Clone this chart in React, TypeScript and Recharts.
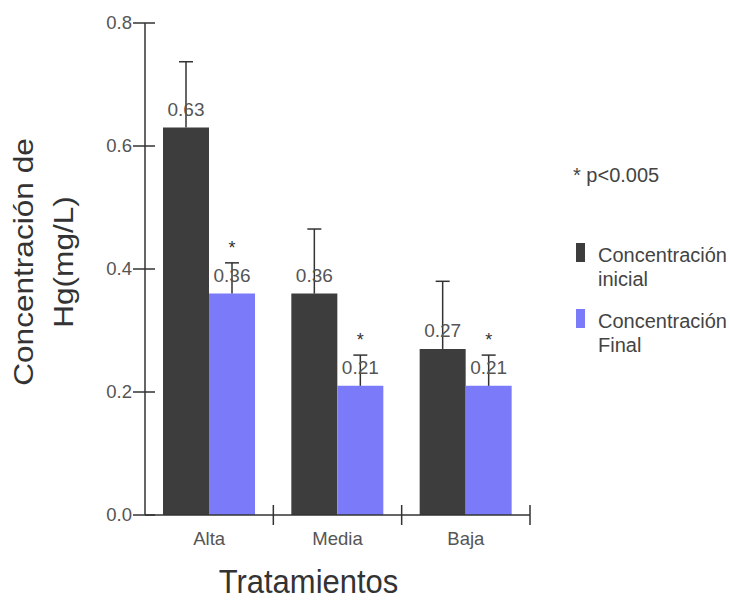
import React from 'react';
import { BarChart, Bar, XAxis, YAxis, LabelList, Legend, Label } from 'recharts';

const FONT = '"Liberation Sans", Arial, Helvetica, sans-serif';

const categories = ['Alta', 'Media', 'Baja'];
const inicial = [0.63, 0.36, 0.27];
const finalConc = [0.36, 0.21, 0.21];
const errInicial = [0.107, 0.105, 0.11];
const errFinal = [0.05, 0.05, 0.05];
const significant = [true, true, true];
const yTicks = [0, 0.2, 0.4, 0.6, 0.8];
const seriesNames = ['Concentración inicial', 'Concentración Final'];
const colors = ['#3d3d3d', '#7b7bfa'];
const noteText = '* p<0.005';

const data = categories.map((c, i) => ({ name: c, inicial: inicial[i], final: finalConc[i] }));

const makeLabel = (errs: number[], stars?: boolean[]) => (props: any) => {
  const vb = props.viewBox || {};
  const x = props.x ?? vb.x;
  const y = props.y ?? vb.y;
  const width = props.width ?? vb.width;
  const height = props.height ?? vb.height;
  const value = Number(props.value);
  const index = props.index;
  const cx = x + width / 2;
  const pxPerUnit = height / value;
  const top = y - errs[index] * pxPerUnit;
  return (
    <g>
      <line x1={cx} y1={y} x2={cx} y2={top} stroke="#333" strokeWidth={1.5} />
      <line x1={cx - 7} y1={top} x2={cx + 7} y2={top} stroke="#333" strokeWidth={1.5} />
      <text x={cx} y={y - 12} textAnchor="middle" fontSize={19} fill="#555" fontFamily={FONT}>
        {value.toFixed(2)}
      </text>
      {stars && stars[index] ? (
        <text x={cx} y={top - 9} textAnchor="middle" fontSize={18} fill="#333" fontFamily={FONT}>
          *
        </text>
      ) : null}
    </g>
  );
};

const YTick = (props: any) => {
  const { x, y, payload } = props;
  return (
    <g>
      <line x1={x + 2} x2={x + 24} y1={y} y2={y} stroke="#333" strokeWidth={1.5} />
      <text x={x + 1} y={y} dy={6} textAnchor="end" fontSize={18.5} fill="#555" fontFamily={FONT}>
        {Number(payload.value).toFixed(1)}
      </text>
    </g>
  );
};

const PLOT_W = 385;
const BAND = PLOT_W / categories.length;

const XTick = (props: any) => {
  const { x, y, payload } = props;
  return (
    <g>
      <line x1={x + BAND / 2} x2={x + BAND / 2} y1={y - 26} y2={y - 6} stroke="#333" strokeWidth={1.5} />
      <text x={x} y={y} dy={14} textAnchor="middle" fontSize={18.5} fill="#555" fontFamily={FONT}>
        {payload.value}
      </text>
    </g>
  );
};

const YTitle = (props: any) => {
  const vb = props.viewBox;
  const cy = vb.y + vb.height / 2;
  return (
    <text
      transform={`translate(33, ${cy - 7}) rotate(-90) scale(1.17, 1)`}
      textAnchor="middle"
      fontSize={27}
      fill="#333"
      fontFamily={FONT}
    >
      <tspan x={0} y={0}>Concentración de</tspan>
      <tspan x={0} y={40}>Hg(mg/L)</tspan>
    </text>
  );
};

const XTitle = (props: any) => {
  const vb = props.viewBox;
  return (
    <text
      transform={`translate(${vb.x + vb.width / 2 - 29}, ${vb.y + 78}) scale(1, 1.1)`}
      textAnchor="middle"
      fontSize={31}
      fill="#333"
      fontFamily={FONT}
    >
      Tratamientos
    </text>
  );
};

const LegendContent = () => (
  <div style={{ fontFamily: FONT, fontSize: 20, color: '#444', lineHeight: '24px' }}>
    <div style={{ marginBottom: 56, whiteSpace: 'nowrap' }}>{noteText}</div>
    {seriesNames.map((n, i) => (
      <div key={n} style={{ display: 'flex', alignItems: 'flex-start', marginBottom: 18 }}>
        <div
          style={{ width: 9, height: 19, background: colors[i], marginTop: 0, marginLeft: 3, marginRight: 13, flexShrink: 0 }}
        />
        <div style={{ width: 134 }}>{n}</div>
      </div>
    ))}
  </div>
);

export default function App() {
  return (
    <div style={{ position: 'absolute', left: 0, top: 0, width: 730, height: 601, background: '#fff' }}>
      <BarChart
        width={730}
        height={601}
        data={data}
        margin={{ top: 23, right: 200, bottom: 56, left: 85 }}
        barGap={0}
        barSize={46}
      >
        <XAxis
          dataKey="name"
          height={30}
          tickSize={8}
          tickMargin={8}
          tickLine={false}
          axisLine={{ stroke: '#333', strokeWidth: 1.5 }}
          tick={<XTick />}
          interval={0}
        >
          <Label content={<XTitle />} />
        </XAxis>
        <YAxis
          width={60}
          domain={[0, 0.8]}
          ticks={yTicks}
          tickSize={12}
          tickMargin={2}
          tickLine={false}
          axisLine={{ stroke: '#333', strokeWidth: 1.5 }}
          tick={<YTick />}
        >
          <Label content={<YTitle />} />
        </YAxis>
        <Legend
          layout="vertical"
          align="center"
          verticalAlign="middle"
          wrapperStyle={{ left: 573, top: 163, width: 157 }}
          content={<LegendContent />}
        />
        <Bar dataKey="inicial" name={seriesNames[0]} fill={colors[0]} isAnimationActive={false}>
          <LabelList dataKey="inicial" content={makeLabel(errInicial)} />
        </Bar>
        <Bar dataKey="final" name={seriesNames[1]} fill={colors[1]} isAnimationActive={false}>
          <LabelList dataKey="final" content={makeLabel(errFinal, significant)} />
        </Bar>
      </BarChart>
    </div>
  );
}
